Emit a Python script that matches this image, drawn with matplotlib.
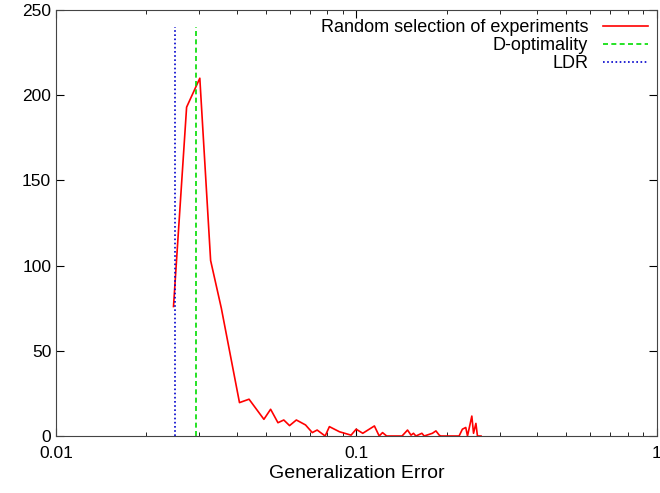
import matplotlib
matplotlib.use("Agg")
import matplotlib.pyplot as plt
from matplotlib.ticker import FixedLocator, FixedFormatter

plt.rcParams['font.family'] = ['Liberation Sans', 'DejaVu Sans']

# random selection of experiments: generalization error vs count
rand_x = [0.0246, 0.0272, 0.0301, 0.0327, 0.0355, 0.0408, 0.0439, 0.0492, 0.0518,
          0.0548, 0.0573, 0.0599, 0.0631, 0.0677, 0.0713, 0.0740, 0.0787,
          0.0813, 0.0878, 0.0960, 0.0998, 0.105, 0.1148, 0.1191, 0.1222, 0.1261,
          0.1419, 0.1480, 0.1520, 0.1549, 0.1578, 0.1652, 0.1682, 0.1791, 0.1840,
          0.1887, 0.1910, 0.2198, 0.2254, 0.2313, 0.2344, 0.2423, 0.2455, 0.2500,
          0.2530, 0.2600]
rand_y = [76, 193, 210, 103, 75, 19.6, 21.6, 9.8, 15.7,
          7.8, 9.4, 6.1, 9.4, 6.5, 2.0, 3.5, 0,
          5.5, 2.5, 0.5, 4, 1.6, 5.9, 0, 2, 0,
          0, 3.5, 0.5, 1.6, 0, 1.6, 0, 1.6, 3,
          0.5, 0, 0, 4, 5, 0, 11.7, 1.6, 7.4,
          0, 0]
dopt_x = 0.0292
ldr_x = 0.0248
vline_top = 240

fig = plt.figure(figsize=(6.6, 4.93), dpi=100)
ax = fig.add_axes([0.085, 0.1156, 0.91, 0.864])

ax.plot(rand_x, rand_y, color='#ff0000', lw=1.2, label='Random selection of experiments')
ax.plot([dopt_x, dopt_x], [0, vline_top], color='#00dd00', lw=1.2, ls=(0, (3, 2)), label='D-optimality')
ax.plot([ldr_x, ldr_x], [0, vline_top], color='#0000cc', lw=1.2, ls=(0, (1, 1.5)), label='LDR')

ax.set_xscale('log')
ax.set_xlim(0.01, 1)
ax.set_ylim(0, 250)
ax.xaxis.set_major_locator(FixedLocator([0.01, 0.1, 1]))
ax.xaxis.set_major_formatter(FixedFormatter(['0.01', '0.1', '1']))
ax.set_yticks([0, 50, 100, 150, 200, 250])
ax.tick_params(which='both', direction='in', top=True, right=True, labelsize=12.5)
ax.tick_params(axis='x', pad=7)
ax.tick_params(which='major', length=6)
ax.tick_params(which='minor', length=3)
for s in ax.spines.values():
    s.set_color('#444444')
ax.set_xlabel('Generalization Error', fontsize=14, labelpad=3)

ax.legend(loc='upper right', frameon=False, markerfirst=False, fontsize=13,
          handlelength=2.5, borderaxespad=0.1, labelspacing=0.05)

fig.savefig('out.png')
